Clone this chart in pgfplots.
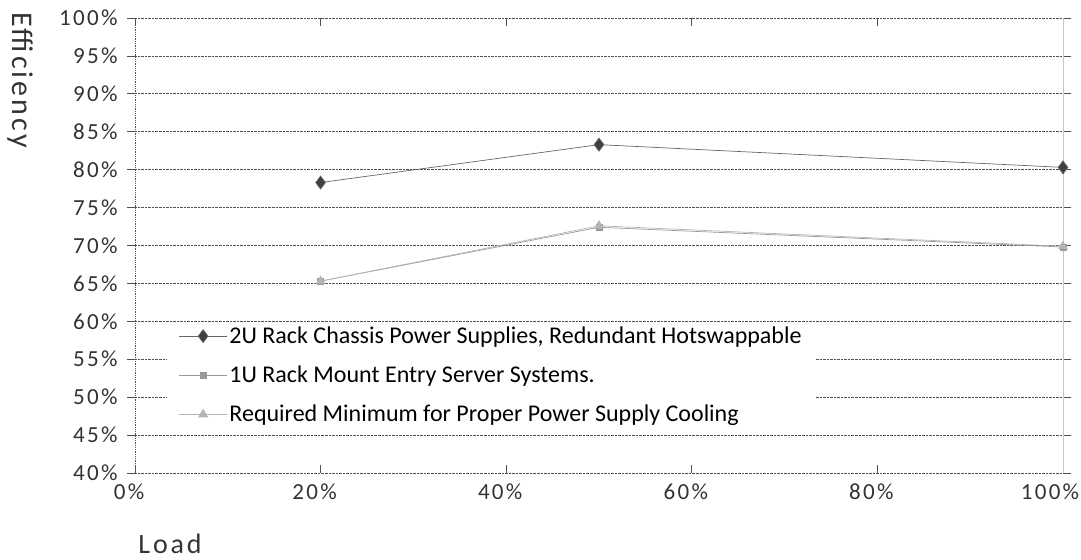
\documentclass[border=0pt]{standalone}
\usepackage{fontspec}
\setmainfont{Carlito}
\newfontfamily\spaced[LetterSpace=10]{Carlito}
\usepackage{pgfplots}
\pgfplotsset{compat=1.18}

\definecolor{gridc}{HTML}{505050}
\definecolor{sone}{HTML}{666666}
\definecolor{stwo}{HTML}{999999}
\definecolor{sthree}{HTML}{B4B4B4}

\begin{document}
\begin{tikzpicture}
\begin{axis}[
    scale only axis,
    width=928bp, height=455bp,
    xmin=0, xmax=100, ymin=40, ymax=100,
    xtick={0,20,...,100},
    xticklabels={0\%,20\%,40\%,60\%,80\%,\hspace*{-14bp}100\%},
    ytick={40,45,...,100},
    yticklabels={40\%,45\%,50\%,55\%,60\%,65\%,70\%,75\%,80\%,85\%,90\%,95\%,100\%},
    tick label style={font=\spaced\fontsize{23bp}{25bp}\selectfont, text=black!80},
    xticklabel style={yshift=-7bp, xshift=-6bp},
    yticklabel style={xshift=-6bp},
    axis line style={draw=none},
    ymajorgrids,
    major grid style={densely dotted, gridc, line width=0.8bp},
    major tick style={gridc, line width=0.8bp},
    xtick align=inside, ytick align=outside,
    major tick length=8bp,
    legend style={at={(rel axis cs:0.034,0.33)}, anchor=north west,
        draw=none, fill=white, font=\fontsize{24bp}{26bp}\selectfont,
        inner xsep=12bp, inner ysep=2bp, row sep=17bp},
    legend cell align=left,
    legend image code/.code={
        \draw[mark repeat=2,mark phase=2] plot coordinates {(0bp,0bp) (24bp,0bp) (48bp,0bp)};
    },
    clip=false,
]
\draw[densely dotted, gridc, line width=0.8bp] (rel axis cs:0,0) -- (rel axis cs:0,1);
\draw[gray!45, line width=0.8bp] (rel axis cs:1,0) -- (rel axis cs:1,1);

\addplot[sone, line width=0.7bp, mark=diamond*, mark size=6.5bp,
    mark options={fill=black!75, draw=black!60}]
    coordinates {(20,78.3) (50,83.3) (100,80.3)};
\addlegendentry{2U Rack Chassis Power Supplies, Redundant Hotswappable}

\addplot[stwo, line width=0.7bp, mark=square*, mark size=3bp,
    mark options={fill=stwo, draw=stwo}]
    coordinates {(20,65.3) (50,72.4) (100,69.8)};
\addlegendentry{1U Rack Mount Entry Server Systems.}

\addplot[sthree, line width=0.7bp, mark=triangle*, mark size=5bp,
    mark options={fill=sthree, draw=sthree}]
    coordinates {(20,65.3) (50,72.6) (100,69.9)};
\addlegendentry{Required Minimum for Proper Power Supply Cooling}
\end{axis}
\node[rotate=-90, font=\spaced\fontsize{30bp}{32bp}\selectfont, text=black!80] at (-115bp,393bp) {Efficiency};
\node[font=\spaced\fontsize{28bp}{30bp}\selectfont, text=black!80] at (35bp,-71bp) {Load};
\pgfresetboundingbox
\useasboundingbox (-135bp,-87bp) rectangle (946bp,473bp);
\end{tikzpicture}
\end{document}
